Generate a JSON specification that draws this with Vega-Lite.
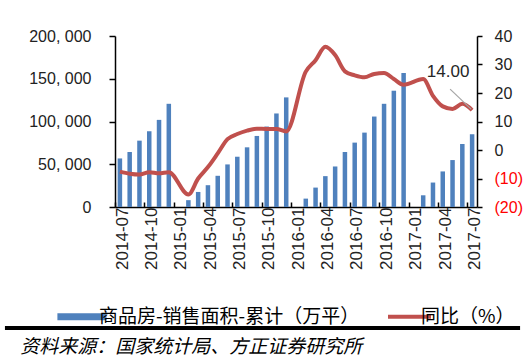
{
  "$schema": "https://vega.github.io/schema/vega-lite/v6.json",
  "width": 362,
  "height": 171,
  "autosize": {"type": "none"},
  "padding": {"left": 115, "top": 36, "right": 54, "bottom": 153},
  "background": "white",
  "config": {"view": {"stroke": null}, "axis": {"grid": false}},
  "data": {"values": [
    {"month": "2014-07", "area": 56800, "yoy": -7.6},
    {"month": "2014-08", "area": 64300, "yoy": -8.3},
    {"month": "2014-09", "area": 77600, "yoy": -8.6},
    {"month": "2014-10", "area": 88600, "yoy": -7.8},
    {"month": "2014-11", "area": 101900, "yoy": -8.2},
    {"month": "2014-12", "area": 120700, "yoy": -7.8},
    {"month": "2015-01", "area": null, "yoy": null},
    {"month": "2015-02", "area": 8000, "yoy": -15.6},
    {"month": "2015-03", "area": 17600, "yoy": -10.0},
    {"month": "2015-04", "area": 25500, "yoy": -6.0},
    {"month": "2015-05", "area": 36500, "yoy": -1.2},
    {"month": "2015-06", "area": 49800, "yoy": 3.8},
    {"month": "2015-07", "area": 58800, "yoy": 5.6},
    {"month": "2015-08", "area": 69800, "yoy": 6.8},
    {"month": "2015-09", "area": 83100, "yoy": 7.5},
    {"month": "2015-10", "area": 94100, "yoy": 7.4},
    {"month": "2015-11", "area": 109400, "yoy": 7.4},
    {"month": "2015-12", "area": 128200, "yoy": 6.5},
    {"month": "2016-01", "area": null, "yoy": null},
    {"month": "2016-02", "area": 9800, "yoy": 27.5},
    {"month": "2016-03", "area": 22700, "yoy": 31.5},
    {"month": "2016-04", "area": 36100, "yoy": 36.2},
    {"month": "2016-05", "area": 47400, "yoy": 33.3},
    {"month": "2016-06", "area": 64300, "yoy": 27.6},
    {"month": "2016-07", "area": 75300, "yoy": 26.2},
    {"month": "2016-08", "area": 87000, "yoy": 25.5},
    {"month": "2016-09", "area": 105800, "yoy": 26.7},
    {"month": "2016-10", "area": 120700, "yoy": 27.0},
    {"month": "2016-11", "area": 136000, "yoy": 24.9},
    {"month": "2016-12", "area": 156800, "yoy": 22.9},
    {"month": "2017-01", "area": null, "yoy": null},
    {"month": "2017-02", "area": 13700, "yoy": 24.9},
    {"month": "2017-03", "area": 28600, "yoy": 19.0},
    {"month": "2017-04", "area": 41600, "yoy": 15.3},
    {"month": "2017-05", "area": 54900, "yoy": 14.4},
    {"month": "2017-06", "area": 73700, "yoy": 16.2},
    {"month": "2017-07", "area": 85100, "yoy": 14.0}
  ]},
  "layer": [
    {
      "layer": [
        {
          "mark": {"type": "bar"},
          "encoding": {
            "x": {
              "field": "month", "type": "ordinal",
              "scale": {
                "domain": ["2014-07","2014-08","2014-09","2014-10","2014-11","2014-12","2015-01","2015-02","2015-03","2015-04","2015-05","2015-06","2015-07","2015-08","2015-09","2015-10","2015-11","2015-12","2016-01","2016-02","2016-03","2016-04","2016-05","2016-06","2016-07","2016-08","2016-09","2016-10","2016-11","2016-12","2017-01","2017-02","2017-03","2017-04","2017-05","2017-06","2017-07"],
                "paddingInner": 0.54, "paddingOuter": 0.27
              },
              "axis": {
                "orient": "bottom",
                "values": ["2014-07","2014-10","2015-01","2015-04","2015-07","2015-10","2016-01","2016-04","2016-07","2016-10","2017-01","2017-04","2017-07"],
                "labelAngle": -90, "labelFont": "Liberation Sans", "labelFontSize": 17, "labelColor": "#222",
                "labelPadding": 5, "labelOverlap": false,
                "ticks": true, "tickSize": -5, "tickColor": "#000", "tickWidth": 1.5,
                "bandPosition": 0, "tickOffset": -2.64, "labelOffset": 4.9,
                "domain": true, "domainColor": "#000", "domainWidth": 1.5, "title": null
              }
            },
            "y": {
              "field": "area", "type": "quantitative",
              "scale": {"domain": [0, 200000], "nice": false},
              "axis": {
                "orient": "left", "values": [0, 50000, 100000, 150000, 200000],
                "labelExpr": "replace(format(datum.value, ','), ',', ', ')",
                "labelOverlap": false,
                "labelFont": "Liberation Sans", "labelFontSize": 16, "labelColor": "#222",
                "tickSize": 6, "tickColor": "#000", "tickWidth": 1.5,
                "domainColor": "#000", "domainWidth": 1.5, "labelPadding": 18, "title": null
              }
            },
            "color": {
              "datum": "商品房-销售面积-累计（万平）",
              "scale": {"domain": ["商品房-销售面积-累计（万平）", "同比（%）"], "range": ["#4F81BD", "#C0504D"]},
              "legend": {
                "orient": "none", "legendX": -37, "legendY": 271, "direction": "horizontal", "title": null,
                "labelFont": "Noto Sans CJK SC", "labelFontSize": 19, "labelColor": "#000", "labelLimit": 400,
                "symbolSize": 1849, "columnPadding": 20, "labelOffset": 2,
                "encode": {"symbols": {"update": {
                  "shape": {"signal": "datum.value === '同比（%）' ? 'stroke' : 'M-1.4,-0.163H0.884V0.163H-1.4Z'"},
                  "fill": {"signal": "datum.value === '同比（%）' ? 'transparent' : '#4F81BD'"},
                  "stroke": {"signal": "datum.value === '同比（%）' ? '#C0504D' : 'transparent'"},
                  "strokeWidth": {"signal": "datum.value === '同比（%）' ? 4 : 0"},
                  "opacity": {"value": 1}
                }}}
              }
            }
          }
        },
        {
          "transform": [{"filter": "datum.yoy != null"}],
          "encoding": {
            "x": {
              "field": "month", "type": "ordinal"
            },
            "y": {
              "field": "yoy", "type": "quantitative",
              "scale": {"domain": [-20, 40], "nice": false},
              "axis": {
                "orient": "right", "values": [-20, -10, 0, 10, 20, 30, 40], "tickCount": 7,
                "labelExpr": "datum.value < 0 ? '(' + abs(datum.value) + ')' : datum.label",
                "labelColor": {"condition": {"test": "datum.value < 0", "value": "#FF0000"}, "value": "#222"},
                "labelOverlap": false,
                "labelFont": "Liberation Sans", "labelFontSize": 16,
                "tickSize": 5, "tickColor": "#000", "tickWidth": 1.5,
                "domainColor": "#000", "domainWidth": 1.5, "labelPadding": 12, "title": null
              }
            }
          },
          "layer": [
            {
              "mark": {"type": "line", "strokeWidth": 4, "interpolate": "monotone"},
              "encoding": {"color": {"datum": "同比（%）"}}
            },
            {
              "transform": [{"filter": "datum.month == '2017-07'"}],
              "mark": {"type": "rule", "color": "#A6A6A6", "strokeWidth": 1.2, "xOffset": -1, "yOffset": -1, "x2Offset": -22, "y2Offset": -21},
              "encoding": {
                "x2": {"field": "month"},
                "y2": {"field": "yoy"}
              }
            },
            {
              "transform": [{"filter": "datum.month == '2017-07'"}],
              "mark": {"type": "text", "font": "Liberation Sans", "fontSize": 17, "color": "#262626", "dx": -24, "dy": -38, "align": "center", "baseline": "middle"},
              "encoding": {
                "text": {"field": "yoy", "type": "quantitative", "format": ".2f"}
              }
            }
          ]
        }
      ],
      "resolve": {"scale": {"y": "independent"}}
    },
    {
      "data": {"values": [{"source": "资料来源：国家统计局、方正证券研究所"}]},
      "layer": [
        {
          "mark": {"type": "rule", "color": "#000", "strokeWidth": 4},
          "encoding": {
            "x": {"datum": -0.304, "type": "quantitative", "scale": {"domain": [0, 1], "nice": false, "zero": false}, "axis": null},
            "x2": {"datum": 1.119},
            "y": {"datum": -0.708, "type": "quantitative", "scale": {"domain": [0, 1], "nice": false, "zero": false}, "axis": null}
          }
        },
        {
          "mark": {"type": "text", "font": "Noto Sans CJK SC", "fontSize": 19, "fontStyle": "italic", "color": "#000", "align": "left", "baseline": "middle"},
          "encoding": {
            "x": {"datum": -0.262, "type": "quantitative"},
            "y": {"datum": -0.819, "type": "quantitative"},
            "text": {"field": "source"}
          }
        }
      ]
    }
  ],
  "resolve": {"scale": {"x": "independent", "y": "independent"}}
}
